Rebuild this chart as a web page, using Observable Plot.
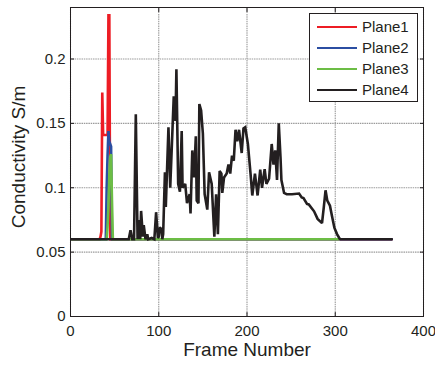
<!DOCTYPE html>
<html><head><meta charset="utf-8">
<script src="https://cdn.jsdelivr.net/npm/d3@7"></script>
<script src="https://cdn.jsdelivr.net/npm/@observablehq/plot@0.6"></script>
<style>
body{margin:0;background:#fff;}
svg{font-family:"Liberation Sans",Arial,sans-serif;}
</style></head><body><div id="chart"></div>
<script>
const seriesNames = ["Plane1", "Plane2", "Plane3", "Plane4"];
const seriesColors = ["#ed1c24", "#2b4ea2", "#6cbd45", "#231f20"];
const xTicks = [0, 100, 200, 300, 400];
const yTicks = [0, 0.05, 0.1, 0.15, 0.2];
const xLabel = "Frame Number";
const yLabel = "Conductivity S/m";

const plane1Frames = [1, 33, 34, 35, 36, 37, 38, 42, 43, 44, 45, 364];
const plane1Values = [0.06, 0.06, 0.062, 0.066, 0.174, 0.141, 0.141, 0.141, 0.234, 0.234, 0.06, 0.06];

const plane2Frames = [1, 40, 41, 42, 43, 44, 46, 47, 364];
const plane2Values = [0.06, 0.06, 0.10, 0.125, 0.144, 0.136, 0.132, 0.06, 0.06];

const plane3Frames = [1, 41, 42, 43, 44, 45, 46, 47, 48, 304];
const plane3Values = [0.06, 0.06, 0.07, 0.085, 0.11, 0.124, 0.126, 0.09, 0.06, 0.06];

const plane4Frames = [1, 66, 68, 70, 72, 74, 76, 77, 79, 80, 82, 83, 85, 87, 88, 92, 95, 97, 99, 100, 101, 103, 104, 105, 107, 108, 111, 113, 117, 119, 120, 122, 124, 126, 127, 130, 132, 135, 136, 138, 140, 142, 143, 145, 146, 148, 150, 152, 155, 157, 160, 163, 165, 167, 169, 171, 172, 174, 177, 179, 181, 183, 185, 187, 189, 191, 194, 196, 198, 201, 204, 206, 209, 212, 215, 217, 220, 222, 225, 228, 230, 232, 234, 236, 238, 239, 242, 245, 251, 259, 262, 264, 268, 270, 276, 280, 285, 287, 289, 291, 294, 296, 299, 302, 305, 306, 364];
const plane4Values = [0.06, 0.06, 0.067, 0.06, 0.06, 0.157, 0.06, 0.075, 0.06, 0.082, 0.062, 0.071, 0.06, 0.064, 0.06, 0.061, 0.06, 0.081, 0.061, 0.062, 0.069, 0.068, 0.06, 0.064, 0.112, 0.085, 0.147, 0.100, 0.171, 0.152, 0.192, 0.103, 0.097, 0.144, 0.100, 0.103, 0.088, 0.095, 0.080, 0.129, 0.108, 0.140, 0.090, 0.088, 0.165, 0.160, 0.142, 0.095, 0.083, 0.112, 0.103, 0.062, 0.095, 0.064, 0.113, 0.111, 0.096, 0.108, 0.111, 0.118, 0.111, 0.125, 0.121, 0.145, 0.136, 0.145, 0.127, 0.146, 0.147, 0.134, 0.111, 0.094, 0.111, 0.094, 0.114, 0.100, 0.1145, 0.103, 0.107, 0.134, 0.118, 0.129, 0.106, 0.150, 0.123, 0.106, 0.096, 0.095, 0.095, 0.0955, 0.0925, 0.092, 0.0874, 0.087, 0.0817, 0.0758, 0.0725, 0.0848, 0.098, 0.090, 0.086, 0.079, 0.069, 0.064, 0.0604, 0.06, 0.06];

const frames = [plane1Frames, plane2Frames, plane3Frames, plane4Frames];
const values = [plane1Values, plane2Values, plane3Values, plane4Values];
const rows = [];
seriesNames.forEach((name, i) => {
  frames[i].forEach((f, j) => rows.push({series: name, frame: f, value: values[i][j]}));
});

const plot = Plot.plot({
  width: 435,
  height: 365,
  marginLeft: 70,
  marginRight: 12,
  marginTop: 7,
  marginBottom: 49,
  style: {fontFamily: "Liberation Sans, Arial, sans-serif", fontSize: "15px", color: "#231f20", background: "#fff"},
  x: {domain: [0, 400]},
  y: {domain: [0, 0.24]},
  color: {domain: seriesNames, range: seriesColors},
  marks: [
    Plot.gridX(xTicks, {stroke: "#9a9a9a", strokeOpacity: 1, strokeDasharray: "1.5,0.8", strokeWidth: 1.1}),
    Plot.gridY(yTicks, {stroke: "#9a9a9a", strokeOpacity: 1, strokeDasharray: "1.5,0.8", strokeWidth: 1.1}),
    Plot.line(rows, {x: "frame", y: "value", z: "series", stroke: "series", strokeWidth: 2.6, strokeLinejoin: "miter", strokeMiterlimit: 2}),
    Plot.frame({stroke: "#231f20", strokeWidth: 1}),
    Plot.axisX(xTicks, {anchor: "bottom", tickSize: -4, tickPadding: 13, label: null, tickFormat: d => String(d), fontSize: 15}),
    Plot.axisX(xTicks, {anchor: "top", tickSize: -4, label: null, tickFormat: () => ""}),
    Plot.axisY(yTicks, {anchor: "left", tickSize: -4, tickPadding: 9, label: null, tickFormat: d => String(d), fontSize: 15}),
    Plot.axisY(yTicks, {anchor: "right", tickSize: -4, label: null, tickFormat: () => ""}),
    Plot.text([xLabel], {frameAnchor: "bottom", dy: 33, fontSize: 19, fill: "#231f20", lineAnchor: "middle", textAnchor: "middle"}),
    Plot.text([yLabel], {frameAnchor: "left", dx: -52, dy: -5, rotate: -90, fontSize: 19, fill: "#231f20", lineAnchor: "middle", textAnchor: "middle"})
  ]
});
document.getElementById("chart").appendChild(plot);

// legend
const svg = d3.select(plot);
const lg = svg.append("g").attr("font-family", "Liberation Sans, Arial, sans-serif").attr("font-size", 15).attr("text-anchor", "start");
lg.append("rect").attr("x", 309.5).attr("y", 13.5).attr("width", 108).attr("height", 88)
  .attr("fill", "#fff").attr("stroke", "#231f20").attr("stroke-width", 1);
seriesNames.forEach((name, i) => {
  const y = 27 + i * 21;
  lg.append("line").attr("x1", 317).attr("x2", 357).attr("y1", y).attr("y2", y)
    .attr("stroke", seriesColors[i]).attr("stroke-width", 2.2);
  lg.append("text").attr("x", 362).attr("y", y).attr("dy", "0.35em").attr("text-anchor", "start").attr("fill", "#231f20").text(name);
});
</script></body></html>
